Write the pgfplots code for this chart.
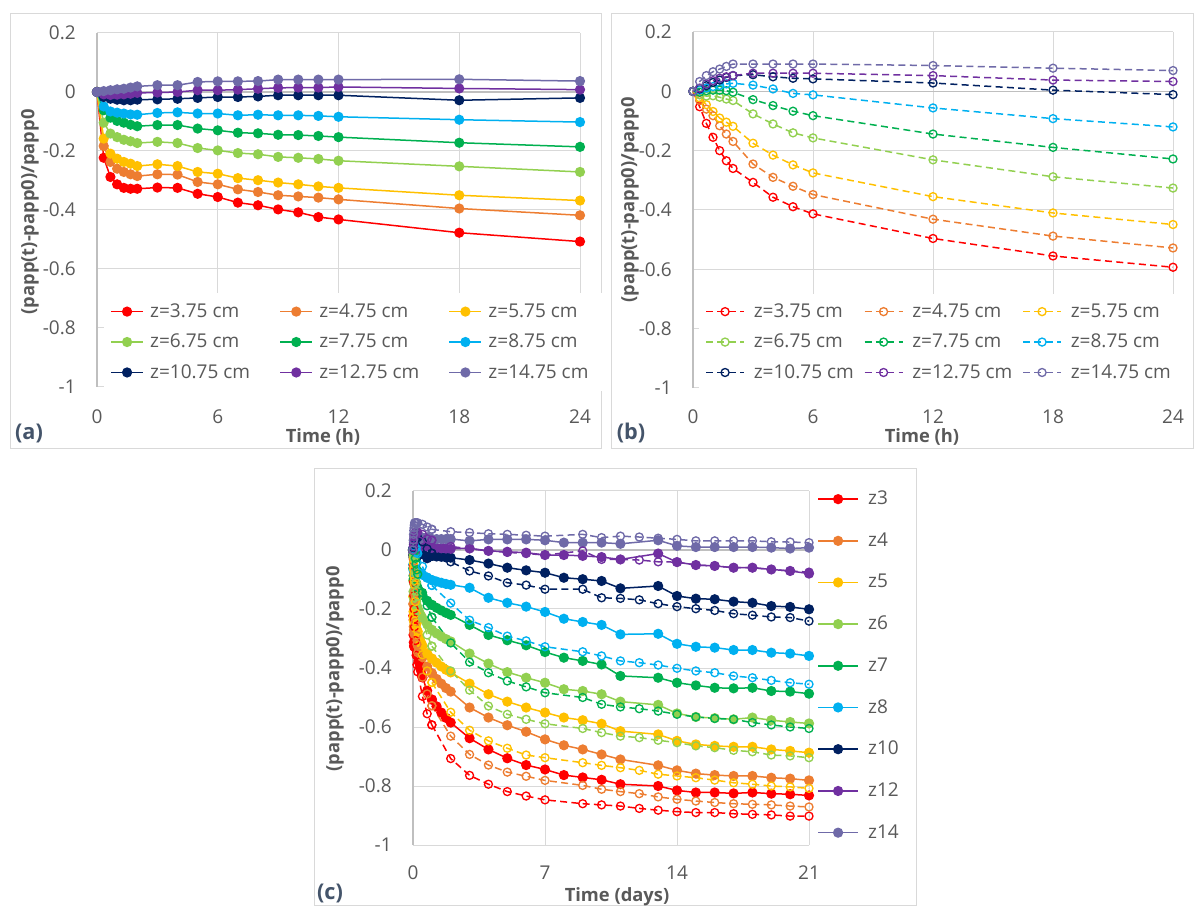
\documentclass[border=0pt]{standalone}
\usepackage{fontspec}
\setmainfont{Open Sans}
\usepackage{pgfplots}
\usepackage{pgfplotstable}
\pgfplotsset{compat=1.18}
\definecolor{c3}{HTML}{FF0000}
\definecolor{c4}{HTML}{ED7D31}
\definecolor{c5}{HTML}{FFC000}
\definecolor{c6}{HTML}{92D050}
\definecolor{c7}{HTML}{00B050}
\definecolor{c8}{HTML}{00B0F0}
\definecolor{c10}{HTML}{002060}
\definecolor{c12}{HTML}{7030A0}
\definecolor{c14}{HTML}{6F6AA8}
\definecolor{txt}{HTML}{595959}
\definecolor{gridc}{HTML}{D9D9D9}
\definecolor{axc}{HTML}{BFBFBF}
\definecolor{lab}{HTML}{44546A}
\newcommand{\tickfont}{\fontsize{11.4}{13}\selectfont}
\newcommand{\legfont}{\fontsize{11.4}{13}\selectfont}
\newcommand{\labfont}{\fontsize{11}{13}\selectfont\bfseries}
\newcommand{\panfont}{\fontsize{13}{15}\selectfont\bfseries}

% (a) time in hours
\pgfplotstableread{
t z3 z4 z5 z6 z7 z8 z10 z12 z14
0 0 0 0 0 0 0 0 0 0
0.333 -0.223 -0.183 -0.158 -0.104 -0.062 -0.049 -0.017 -0.008 0.003
0.667 -0.288 -0.237 -0.209 -0.141 -0.087 -0.066 -0.023 -0.010 0.006
1 -0.313 -0.260 -0.226 -0.153 -0.098 -0.070 -0.026 -0.009 0.009
1.333 -0.325 -0.271 -0.237 -0.162 -0.104 -0.073 -0.028 -0.008 0.011
1.667 -0.328 -0.279 -0.243 -0.167 -0.111 -0.076 -0.028 -0.006 0.015
2 -0.328 -0.285 -0.251 -0.173 -0.116 -0.077 -0.026 -0.003 0.019
3 -0.324 -0.279 -0.245 -0.169 -0.112 -0.071 -0.025 -0.002 0.023
4 -0.325 -0.280 -0.251 -0.173 -0.112 -0.069 -0.023 0.000 0.023
5 -0.345 -0.305 -0.271 -0.190 -0.124 -0.073 -0.020 0.006 0.034
6 -0.356 -0.313 -0.277 -0.198 -0.130 -0.073 -0.017 0.006 0.036
7 -0.375 -0.330 -0.292 -0.207 -0.138 -0.079 -0.017 0.008 0.036
8 -0.384 -0.339 -0.299 -0.211 -0.140 -0.077 -0.015 0.011 0.037
9 -0.398 -0.350 -0.307 -0.220 -0.145 -0.079 -0.011 0.014 0.042
10 -0.408 -0.354 -0.313 -0.223 -0.146 -0.079 -0.011 0.015 0.042
11 -0.424 -0.358 -0.320 -0.227 -0.149 -0.081 -0.011 0.015 0.042
12 -0.432 -0.364 -0.325 -0.233 -0.153 -0.084 -0.011 0.017 0.042
18 -0.477 -0.395 -0.350 -0.252 -0.172 -0.094 -0.028 0.012 0.043
24 -0.507 -0.418 -0.368 -0.271 -0.186 -0.102 -0.020 0.008 0.037
}\tabA

% (b) time in hours
\pgfplotstableread{
t z3 z4 z5 z6 z7 z8 z10 z12 z14
0 0 0 0 0 0 0 0 0 0
0.333 -0.052 -0.031 -0.022 -0.012 -0.003 0.004 0.008 0.011 0.033
0.667 -0.108 -0.060 -0.045 -0.016 0.002 0.011 0.019 0.025 0.053
1 -0.155 -0.082 -0.068 -0.015 0.004 0.016 0.030 0.036 0.066
1.333 -0.200 -0.116 -0.090 -0.020 0.004 0.020 0.038 0.044 0.075
1.667 -0.234 -0.144 -0.104 -0.026 0.002 0.025 0.047 0.049 0.084
2 -0.260 -0.169 -0.118 -0.031 -0.003 0.027 0.053 0.053 0.092
3 -0.307 -0.245 -0.175 -0.076 -0.028 0.021 0.056 0.061 0.092
4 -0.357 -0.290 -0.215 -0.110 -0.048 0.008 0.049 0.061 0.092
5 -0.389 -0.320 -0.248 -0.140 -0.067 -0.007 0.044 0.061 0.092
6 -0.413 -0.348 -0.275 -0.157 -0.082 -0.012 0.042 0.061 0.092
12 -0.496 -0.431 -0.355 -0.231 -0.144 -0.056 0.028 0.053 0.087
18 -0.555 -0.488 -0.410 -0.288 -0.189 -0.092 0.004 0.038 0.078
24 -0.593 -0.528 -0.449 -0.326 -0.228 -0.120 -0.011 0.033 0.070
}\tabB

% (c) solid, time in days (from day 1)
\pgfplotstableread{
t z3 z4 z5 z6 z7 z8 z10 z12 z14
1 -0.507 -0.418 -0.368 -0.271 -0.186 -0.102 -0.020 0.008 0.037
1.25 -0.530 -0.437 -0.382 -0.283 -0.196 -0.107 -0.022 0.007 0.037
1.5 -0.551 -0.453 -0.395 -0.293 -0.205 -0.111 -0.023 0.006 0.037
1.75 -0.569 -0.468 -0.406 -0.302 -0.213 -0.115 -0.025 0.005 0.037
2 -0.585 -0.480 -0.415 -0.310 -0.220 -0.118 -0.026 0.004 0.037
3 -0.638 -0.534 -0.453 -0.351 -0.254 -0.128 -0.034 0.006 0.031
4 -0.676 -0.568 -0.489 -0.385 -0.288 -0.162 -0.046 -0.003 0.036
5 -0.706 -0.594 -0.514 -0.414 -0.306 -0.179 -0.060 -0.006 0.036
6 -0.729 -0.616 -0.534 -0.433 -0.323 -0.192 -0.069 -0.009 0.036
7 -0.744 -0.642 -0.551 -0.450 -0.346 -0.210 -0.077 -0.017 0.033
8 -0.763 -0.662 -0.568 -0.472 -0.365 -0.233 -0.094 -0.017 0.025
9 -0.771 -0.676 -0.577 -0.478 -0.376 -0.244 -0.099 -0.020 0.025
10 -0.779 -0.693 -0.589 -0.489 -0.388 -0.254 -0.105 -0.024 0.025
11 -0.794 -0.710 -0.614 -0.514 -0.427 -0.286 -0.130 -0.032 0.021
13 -0.800 -0.730 -0.625 -0.525 -0.433 -0.284 -0.122 -0.012 0.033
14 -0.815 -0.747 -0.647 -0.554 -0.450 -0.318 -0.156 -0.041 0.014
15 -0.822 -0.758 -0.659 -0.566 -0.459 -0.328 -0.165 -0.051 0.010
16 -0.822 -0.763 -0.664 -0.570 -0.467 -0.331 -0.167 -0.054 0.010
17 -0.825 -0.766 -0.667 -0.574 -0.469 -0.339 -0.175 -0.060 0.010
18 -0.822 -0.766 -0.667 -0.568 -0.467 -0.339 -0.179 -0.060 0.010
19 -0.826 -0.772 -0.676 -0.577 -0.478 -0.348 -0.190 -0.066 0.008
20 -0.828 -0.775 -0.681 -0.583 -0.480 -0.351 -0.193 -0.071 0.005
21 -0.832 -0.781 -0.687 -0.588 -0.487 -0.359 -0.201 -0.080 0.008
}\tabCs

% (c) dashed, time in days (from day 1)
\pgfplotstableread{
t z3 z4 z5 z6 z7 z8 z10 z12 z14
1 -0.593 -0.528 -0.449 -0.326 -0.228 -0.120 -0.011 0.033 0.070
2 -0.707 -0.631 -0.550 -0.410 -0.315 -0.180 -0.040 0.012 0.062
3 -0.764 -0.693 -0.611 -0.475 -0.380 -0.238 -0.071 0.004 0.059
4 -0.794 -0.729 -0.647 -0.529 -0.416 -0.263 -0.088 -0.003 0.055
5 -0.819 -0.753 -0.672 -0.557 -0.444 -0.292 -0.111 -0.008 0.053
6 -0.834 -0.767 -0.695 -0.574 -0.464 -0.308 -0.119 -0.012 0.050
7 -0.847 -0.781 -0.704 -0.589 -0.484 -0.328 -0.133 -0.017 0.047
9 -0.860 -0.798 -0.721 -0.605 -0.500 -0.345 -0.133 -0.003 0.053
10 -0.864 -0.811 -0.730 -0.619 -0.523 -0.359 -0.162 -0.032 0.042
11 -0.868 -0.819 -0.738 -0.631 -0.532 -0.376 -0.164 -0.032 0.047
12 -0.876 -0.826 -0.747 -0.636 -0.538 -0.382 -0.169 -0.034 0.044
13 -0.882 -0.837 -0.760 -0.645 -0.546 -0.390 -0.182 -0.040 0.040
14 -0.887 -0.845 -0.766 -0.653 -0.557 -0.401 -0.192 -0.041 0.036
15 -0.890 -0.851 -0.772 -0.664 -0.566 -0.410 -0.199 -0.051 0.031
16 -0.890 -0.856 -0.780 -0.670 -0.571 -0.416 -0.205 -0.054 0.031
17 -0.894 -0.860 -0.789 -0.679 -0.574 -0.427 -0.216 -0.060 0.031
18 -0.896 -0.862 -0.794 -0.684 -0.585 -0.433 -0.221 -0.060 0.031
19 -0.898 -0.864 -0.800 -0.695 -0.593 -0.442 -0.227 -0.066 0.028
20 -0.902 -0.868 -0.803 -0.698 -0.600 -0.450 -0.229 -0.071 0.027
21 -0.902 -0.871 -0.808 -0.704 -0.605 -0.455 -0.241 -0.075 0.025
}\tabCd

\pgfplotsset{
  excel/.style={
    scale only axis, clip=false,
    axis line style={draw=none}, major tick length=0pt,
    grid=major, major grid style={draw=gridc, line width=0.6pt},
    ymin=-1, ymax=0.2,
    ytick={-1,-0.8,-0.6,-0.4,-0.2,0,0.2},
    yticklabels={-1,-0.8,-0.6,-0.4,-0.2,0,0.2},
    tick label style={font=\tickfont, text=txt},
    yticklabel style={anchor=east, inner sep=0pt, xshift=-12.6pt},
    extra y ticks={0}, extra y tick labels={},
    extra x ticks={0}, extra x tick labels={},
    extra tick style={major grid style={draw=axc, line width=0.7pt}},
    legend cell align=left,
  },
  sol/.style={solid, line width=0.9pt, mark=*, mark size=2.6pt, mark options={solid}},
  das/.style={dash pattern=on 4.2pt off 2.6pt, line width=0.9pt, mark=o, mark size=2.4pt, mark options={solid, line width=0.8pt}},
}

\begin{document}
\begin{tikzpicture}
\path[use as bounding box] (0,0) rectangle (717pt,543.6pt);
\draw[gridc, line width=0.6pt] (6pt,274.2pt) rectangle (360.6pt,535.2pt);
\draw[gridc, line width=0.6pt] (366.6pt,274.2pt) rectangle (715.8pt,535.2pt);
\draw[gridc, line width=0.6pt] (188.4pt,0.6pt) rectangle (549.6pt,262.2pt);

% ---------- (a) ----------
\begin{axis}[excel,
  at={(58.2pt,311.4pt)}, anchor=south west,
  width=289.8pt, height=212.4pt,
  xmin=0, xmax=24, xtick={0,6,12,18,24}, xticklabels={0,6,12,18,24},
  xticklabel style={anchor=center, yshift=-17.6pt},
  legend columns=3,
  legend style={at={(0.0131,0.127)}, anchor=west, draw=none, fill=white, inner sep=4pt,
    font=\legfont, text=txt, row sep=4.5pt,
    /tikz/every odd column/.append style={column sep=1.8pt},
    /tikz/every even column/.append style={column sep=10.6pt}},
  legend image code/.code={\draw[mark repeat=2,mark phase=2,#1] plot coordinates {(0pt,0pt)(9.6pt,0pt)(19.2pt,0pt)};},
]
\addplot[sol,c3] table[x=t,y=z3]{\tabA}; \addlegendentry{\makebox[65pt][l]{z=3.75 cm}}
\addplot[sol,c4] table[x=t,y=z4]{\tabA}; \addlegendentry{\makebox[65pt][l]{z=4.75 cm}}
\addplot[sol,c5] table[x=t,y=z5]{\tabA}; \addlegendentry{\makebox[65pt][l]{z=5.75 cm}}
\addplot[sol,c6] table[x=t,y=z6]{\tabA}; \addlegendentry{\makebox[65pt][l]{z=6.75 cm}}
\addplot[sol,c7] table[x=t,y=z7]{\tabA}; \addlegendentry{\makebox[65pt][l]{z=7.75 cm}}
\addplot[sol,c8] table[x=t,y=z8]{\tabA}; \addlegendentry{\makebox[65pt][l]{z=8.75 cm}}
\addplot[sol,c10] table[x=t,y=z10]{\tabA}; \addlegendentry{\makebox[65pt][l]{z=10.75 cm}}
\addplot[sol,c12] table[x=t,y=z12]{\tabA}; \addlegendentry{\makebox[65pt][l]{z=12.75 cm}}
\addplot[sol,c14] table[x=t,y=z14]{\tabA}; \addlegendentry{\makebox[65pt][l]{z=14.75 cm}}
\end{axis}

% ---------- (b) ----------
\begin{axis}[excel,
  at={(415.8pt,310.8pt)}, anchor=south west,
  width=288pt, height=213.6pt,
  xmin=0, xmax=24, xtick={0,6,12,18,24}, xticklabels={0,6,12,18,24},
  xticklabel style={anchor=center, yshift=-17pt},
  legend columns=3,
  legend style={at={(0.0111,0.129)}, anchor=west, draw=none, fill=white, inner sep=4pt,
    font=\legfont, text=txt, row sep=4.5pt,
    /tikz/every odd column/.append style={column sep=3.4pt},
    /tikz/every even column/.append style={column sep=4pt}},
  legend image code/.code={\draw[mark repeat=2,mark phase=2,#1] plot coordinates {(0pt,0pt)(11.4pt,0pt)(22.8pt,0pt)};},
]
\addplot[das,c3] table[x=t,y=z3]{\tabB}; \addlegendentry{\makebox[60pt][l]{z=3.75 cm}}
\addplot[das,c4] table[x=t,y=z4]{\tabB}; \addlegendentry{\makebox[60pt][l]{z=4.75 cm}}
\addplot[das,c5] table[x=t,y=z5]{\tabB}; \addlegendentry{\makebox[60pt][l]{z=5.75 cm}}
\addplot[das,c6] table[x=t,y=z6]{\tabB}; \addlegendentry{\makebox[60pt][l]{z=6.75 cm}}
\addplot[das,c7] table[x=t,y=z7]{\tabB}; \addlegendentry{\makebox[60pt][l]{z=7.75 cm}}
\addplot[das,c8] table[x=t,y=z8]{\tabB}; \addlegendentry{\makebox[60pt][l]{z=8.75 cm}}
\addplot[das,c10] table[x=t,y=z10]{\tabB}; \addlegendentry{\makebox[60pt][l]{z=10.75 cm}}
\addplot[das,c12] table[x=t,y=z12]{\tabB}; \addlegendentry{\makebox[60pt][l]{z=12.75 cm}}
\addplot[das,c14] table[x=t,y=z14]{\tabB}; \addlegendentry{\makebox[60pt][l]{z=14.75 cm}}
\end{axis}

% ---------- (c) ----------
\begin{axis}[excel,
  at={(247.8pt,36.6pt)}, anchor=south west,
  width=237.6pt, height=212.4pt,
  xmin=0, xmax=21, xtick={0,7,14,21}, xticklabels={0,7,14,21},
  xticklabel style={anchor=center, yshift=-16.8pt},
  legend columns=1,
  legend style={at={(1.0202,0.506)}, anchor=west, draw=none, fill=none, inner sep=0pt,
    font=\legfont, text=txt, row sep=11.3pt,
    /tikz/every odd column/.append style={column sep=3.6pt}},
  legend image code/.code={\draw[mark repeat=2,mark phase=2,#1] plot coordinates {(0pt,0pt)(12pt,0pt)(24pt,0pt)};},
]
\addplot[sol,c3,forget plot] table[x expr=\thisrow{t}/24,y=z3]{\tabA};
\addplot[sol,c3] table[x=t,y=z3]{\tabCs}; \addlegendentry{z3}
\addplot[sol,c4,forget plot] table[x expr=\thisrow{t}/24,y=z4]{\tabA};
\addplot[sol,c4] table[x=t,y=z4]{\tabCs}; \addlegendentry{z4}
\addplot[sol,c5,forget plot] table[x expr=\thisrow{t}/24,y=z5]{\tabA};
\addplot[sol,c5] table[x=t,y=z5]{\tabCs}; \addlegendentry{z5}
\addplot[sol,c6,forget plot] table[x expr=\thisrow{t}/24,y=z6]{\tabA};
\addplot[sol,c6] table[x=t,y=z6]{\tabCs}; \addlegendentry{z6}
\addplot[sol,c7,forget plot] table[x expr=\thisrow{t}/24,y=z7]{\tabA};
\addplot[sol,c7] table[x=t,y=z7]{\tabCs}; \addlegendentry{z7}
\addplot[sol,c8,forget plot] table[x expr=\thisrow{t}/24,y=z8]{\tabA};
\addplot[sol,c8] table[x=t,y=z8]{\tabCs}; \addlegendentry{z8}
\addplot[sol,c10,forget plot] table[x expr=\thisrow{t}/24,y=z10]{\tabA};
\addplot[sol,c10] table[x=t,y=z10]{\tabCs}; \addlegendentry{z10}
\addplot[sol,c12,forget plot] table[x expr=\thisrow{t}/24,y=z12]{\tabA};
\addplot[sol,c12] table[x=t,y=z12]{\tabCs}; \addlegendentry{z12}
\addplot[sol,c14,forget plot] table[x expr=\thisrow{t}/24,y=z14]{\tabA};
\addplot[sol,c14] table[x=t,y=z14]{\tabCs}; \addlegendentry{z14}
% dashed
\addplot[das,c3,forget plot] table[x expr=\thisrow{t}/24,y=z3]{\tabB};
\addplot[das,c3,forget plot] table[x=t,y=z3]{\tabCd};
\addplot[das,c4,forget plot] table[x expr=\thisrow{t}/24,y=z4]{\tabB};
\addplot[das,c4,forget plot] table[x=t,y=z4]{\tabCd};
\addplot[das,c5,forget plot] table[x expr=\thisrow{t}/24,y=z5]{\tabB};
\addplot[das,c5,forget plot] table[x=t,y=z5]{\tabCd};
\addplot[das,c6,forget plot] table[x expr=\thisrow{t}/24,y=z6]{\tabB};
\addplot[das,c6,forget plot] table[x=t,y=z6]{\tabCd};
\addplot[das,c7,forget plot] table[x expr=\thisrow{t}/24,y=z7]{\tabB};
\addplot[das,c7,forget plot] table[x=t,y=z7]{\tabCd};
\addplot[das,c8,forget plot] table[x expr=\thisrow{t}/24,y=z8]{\tabB};
\addplot[das,c8,forget plot] table[x=t,y=z8]{\tabCd};
\addplot[das,c10,forget plot] table[x expr=\thisrow{t}/24,y=z10]{\tabB};
\addplot[das,c10,forget plot] table[x=t,y=z10]{\tabCd};
\addplot[das,c12,forget plot] table[x expr=\thisrow{t}/24,y=z12]{\tabB};
\addplot[das,c12,forget plot] table[x=t,y=z12]{\tabCd};
\addplot[das,c14,forget plot] table[x expr=\thisrow{t}/24,y=z14]{\tabB};
\addplot[das,c14,forget plot] table[x=t,y=z14]{\tabCd};
\end{axis}

% ---------- labels ----------
\node[rotate=90, font=\labfont, text=txt] at (18pt,416.4pt) {(papp(t)-papp0)/papp0};
\node[font=\labfont, text=txt] at (193.8pt,281.4pt) {Time (h)};
\node[font=\panfont, text=lab] at (17.4pt,283.8pt) {(a)};
\node[rotate=90, font=\labfont, text=txt] at (378pt,423.6pt) {(papp(t)-papp0)/papp0};
\node[font=\labfont, text=txt] at (553.2pt,281.4pt) {Time (h)};
\node[font=\panfont, text=lab] at (378.6pt,283.8pt) {(b)};
\node[rotate=90, font=\labfont, text=txt] at (201pt,142.2pt) {(papp(t)-papp0)/papp0};
\node[font=\labfont, text=txt] at (370.2pt,5.4pt) {Time (days)};
\node[font=\panfont, text=lab] at (198pt,7.8pt) {(c)};
\end{tikzpicture}
\end{document}
